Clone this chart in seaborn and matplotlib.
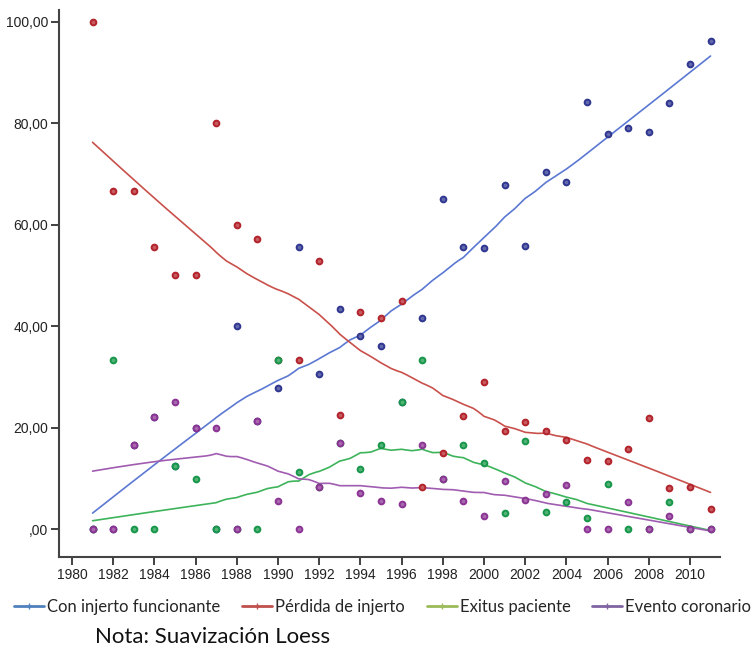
import numpy as np
import pandas as pd
import matplotlib
matplotlib.use("Agg")
import matplotlib.pyplot as plt
from matplotlib.lines import Line2D
from matplotlib.ticker import FuncFormatter
import seaborn as sns

# ---------------- data (percent per year) ----------------
years = list(range(1981, 2012))
con_injerto = [0, 0, 16.7, 22.2, 12.5, 20.0, 0, 40.0, 21.4, 27.8,
               55.6, 30.5, 43.4, 38.1, 36.1, 25.0, 41.7, 65.0, 55.6, 55.4,
               67.8, 55.8, 70.3, 68.5, 84.2, 77.8, 79.0, 78.2, 83.9, 91.7, 96.1]
perdida = [100.0, 66.7, 66.7, 55.6, 50.0, 50.0, 80.0, 60.0, 57.2, 33.3,
           33.3, 52.8, 22.6, 42.9, 41.7, 45.0, 8.3, 15.0, 22.3, 29.0,
           19.4, 21.1, 19.4, 17.6, 13.7, 13.4, 15.8, 21.9, 8.1, 8.4, 4.0]
exitus = [0, 33.3, 0, 0, 12.5, 10.0, 0, 0, 0, 33.3,
          11.2, 8.3, 17.0, 11.9, 16.7, 25.0, 33.4, 10.0, 16.7, 13.1,
          3.2, 17.3, 3.5, 5.3, 2.3, 8.9, 0, 0, 5.4, 0, 0]
evento = [0, 0, 16.7, 22.2, 25.0, 20.0, 20.0, 0, 21.4, 5.6,
          0, 8.3, 17.0, 7.1, 5.6, 5.0, 16.7, 10.0, 5.6, 2.6,
          9.6, 5.8, 7.0, 8.8, 0, 0, 5.3, 0, 2.7, 0, 0]
series_names = ["Con injerto funcionante", "Pérdida de injerto",
                "Exitus paciente", "Evento coronario"]
x_tick_labels = list(range(1980, 2011, 2))
y_tick_values = [0, 20, 40, 60, 80, 100]

point_colors = ["#2f3790", "#b3232b", "#17974a", "#8b3494"]
line_colors = ["#5b78d2", "#c9504b", "#3db35a", "#a05cb0"]
legend_colors = ["#4f81bd", "#c0504d", "#9bbb59", "#8064a2"]


def loess(x, y, grid, frac=0.4, iters=1):
    """Local linear loess (Epanechnikov kernel) with bisquare robustness."""
    x = np.asarray(x, float)
    y = np.asarray(y, float)
    k = int(np.ceil(frac * len(x)))
    rob = np.ones_like(y)

    def fit_at(g):
        d = np.abs(x - g)
        h = np.sort(d)[k - 1] * 1.0001
        u = d / h
        w = np.clip(0.75 * (1 - u ** 2), 0, None) * rob
        W = w.sum()
        xm = (w * x).sum() / W
        ym = (w * y).sum() / W
        sxx = (w * (x - xm) ** 2).sum()
        sxy = (w * (x - xm) * (y - ym)).sum()
        b = sxy / sxx if sxx > 0 else 0.0
        return ym + b * (g - xm)

    for _ in range(iters):
        res = y - np.array([fit_at(v) for v in x])
        s = np.median(np.abs(res))
        if s <= 0:
            break
        r = res / (6 * s)
        rob = np.clip(1 - r ** 2, 0, None) ** 2
    return np.array([fit_at(g) for g in grid])


all_series = [con_injerto, perdida, exitus, evento]
df = pd.concat([pd.DataFrame({"Año": years, "Porcentaje": s, "Serie": n})
                for s, n in zip(all_series, series_names)], ignore_index=True)

sns.set_style("white")
plt.rcParams["font.family"] = ["Liberation Sans", "DejaVu Sans"]

fig = plt.figure(figsize=(7.55, 6.48), dpi=100)
ax = fig.add_axes([59 / 755, 1 - 557 / 648, (720 - 59) / 755, (557 - 10) / 648])

grid = np.linspace(years[0], years[-1], 301)
for s, c in zip(all_series, line_colors):
    fit = loess(years, s, grid)
    sns.lineplot(x=grid, y=fit, ax=ax, color=c, lw=1.2, legend=False)

face = [tuple(0.75 * np.array(matplotlib.colors.to_rgb(c)) + 0.25) for c in point_colors]
for n, c, f in zip(series_names, point_colors, face):
    sub = df[df["Serie"] == n]
    sns.scatterplot(data=sub, x="Año", y="Porcentaje", ax=ax, s=17,
                    color=f, edgecolor=c, linewidth=1.4, legend=False, zorder=3)

ax.set_xlim(1979.37, 2011.46)
ax.set_ylim(-5.46, 102.3)
ax.set_xticks(x_tick_labels)
ax.set_xticklabels([str(v) for v in x_tick_labels])
ax.set_yticks(y_tick_values)
ax.yaxis.set_major_formatter(FuncFormatter(
    lambda v, p: ",00" if v == 0 else f"{int(v)},00"))
ax.set_xlabel("")
ax.set_ylabel("")
for sp in ["top", "right"]:
    ax.spines[sp].set_visible(False)
for sp in ["left", "bottom"]:
    ax.spines[sp].set_color("#444444")
    ax.spines[sp].set_linewidth(1.5)
ax.tick_params(axis="both", which="major", direction="out", length=6, width=1.3,
               color="#333333", labelsize=10, labelcolor="#222222", pad=2,
               left=True, bottom=True)

handles = [Line2D([0], [0], color=c, lw=2, marker="+", markersize=4,
                  markeredgewidth=1) for c in legend_colors]
leg_font = ["Lato", "DejaVu Sans"]
fig.legend(handles, series_names, loc="center", bbox_to_anchor=(0.507, 1 - 607 / 648),
           ncol=4, frameon=False, handlelength=1.8, handletextpad=0.18,
           columnspacing=1.3, borderaxespad=0, borderpad=0,
           prop={"family": leg_font, "size": 12})
fig.text(95 / 755, 1 - 637 / 648, "Nota: Suavización Loess", ha="left", va="center",
         fontsize=16, family=leg_font, color="#111111")

fig.savefig("out.png", dpi=100)
